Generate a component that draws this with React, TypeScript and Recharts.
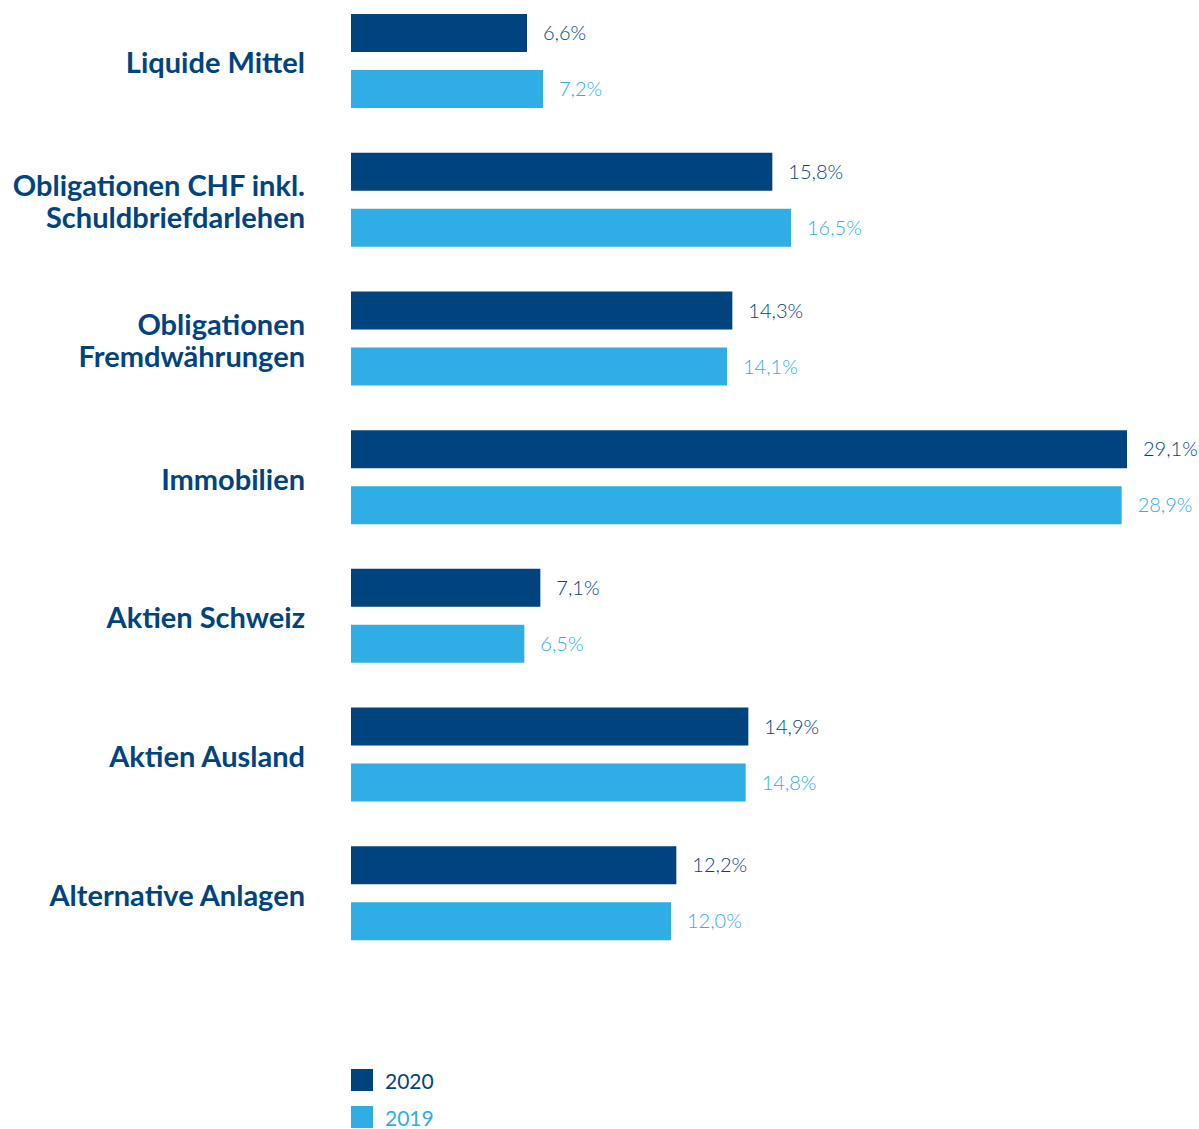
import React from "react";
import { BarChart, Bar, XAxis, YAxis, LabelList } from "recharts";

const categories = [
  "Liquide Mittel",
  "Obligationen CHF inkl.\nSchuldbriefdarlehen",
  "Obligationen\nFremdwährungen",
  "Immobilien",
  "Aktien Schweiz",
  "Aktien Ausland",
  "Alternative Anlagen",
];
const values2020 = [6.6, 15.8, 14.3, 29.1, 7.1, 14.9, 12.2];
const values2019 = [7.2, 16.5, 14.1, 28.9, 6.5, 14.8, 12.0];
const seriesNames = ["2020", "2019"];

const DARK = "#00447f";
const LIGHT = "#2eaee5";

const data = categories.map((name, i) => ({
  name,
  y2020: values2020[i],
  y2019: values2019[i],
}));

const fmt = (v: any) => `${Number(v).toFixed(1).replace(".", ",")}%`;

const CategoryTick = ({ y, payload }: any) => {
  const lines = String(payload.value).split("\n");
  const lh = 32;
  const start = y - ((lines.length - 1) * lh) / 2;
  return (
    <text
      x={305}
      y={start}
      textAnchor="end"
      dominantBaseline="central"
      fill={DARK}
      fontFamily="Lato, sans-serif"
      fontWeight={700}
      fontSize={29}
    >
      {lines.map((l, i) => (
        <tspan key={i} x={305} dy={i === 0 ? 0 : lh}>
          {l}
        </tspan>
      ))}
    </text>
  );
};

const LegendBox = () => (
  <div
    style={{
      position: "absolute",
      top: 1069,
      left: 351,
      fontFamily: "Lato, sans-serif",
      fontSize: 21,
    }}
  >
    {seriesNames.map((n, i) => (
      <div
        key={n}
        style={{ display: "flex", alignItems: "center", height: 22, marginBottom: 15 }}
      >
        <span
          style={{
            display: "inline-block",
            width: 22,
            height: 22,
            background: i === 0 ? DARK : LIGHT,
            marginRight: 12,
          }}
        />
        <span style={{ color: i === 0 ? DARK : LIGHT }}>{n}</span>
      </div>
    ))}
  </div>
);

const App: React.FC = () => {
  return (
    <div>
      <div style={{ position: "absolute", left: 0, top: -8 }}>
        <BarChart
          width={1199}
          height={1137}
          data={data}
          layout="vertical"
          margin={{ top: 0, right: 48, bottom: 166, left: 0 }}
          barSize={38}
          barGap={18}
        >
          <XAxis type="number" domain={[0, 30]} hide />
          <YAxis
            type="category"
            dataKey="name"
            width={351}
            axisLine={false}
            tickLine={false}
            tick={<CategoryTick />}
            interval={0}
          />
          <Bar dataKey="y2020" name="2020" fill={DARK} isAnimationActive={false}>
            <LabelList
              dataKey="y2020"
              position="right"
              offset={16}
              formatter={fmt}
              fill={DARK}
              fontFamily="Lato, sans-serif"
              fontWeight={300}
              fontSize={20}
            />
          </Bar>
          <Bar dataKey="y2019" name="2019" fill={LIGHT} isAnimationActive={false}>
            <LabelList
              dataKey="y2019"
              position="right"
              offset={16}
              formatter={fmt}
              fill={LIGHT}
              fontFamily="Lato, sans-serif"
              fontWeight={300}
              fontSize={20}
            />
          </Bar>
        </BarChart>
      </div>
      <LegendBox />
    </div>
  );
};

export default App;
